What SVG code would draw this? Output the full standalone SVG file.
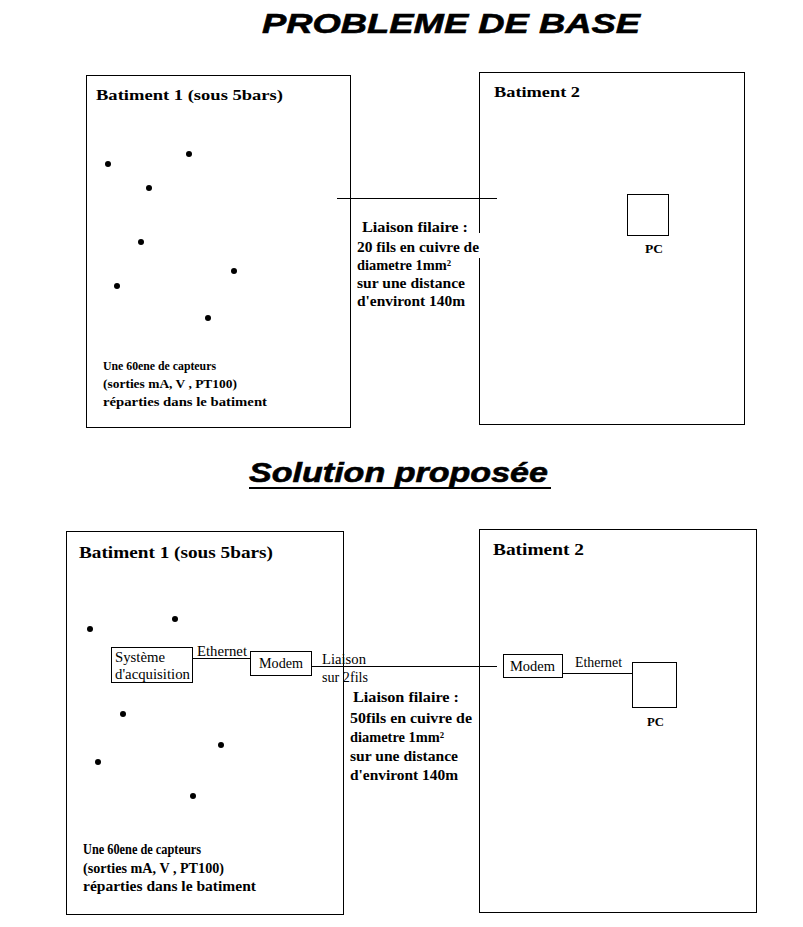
<svg xmlns="http://www.w3.org/2000/svg" width="803" height="927" viewBox="0 0 803 927">
<style>
.box{fill:none;stroke:#000;stroke-width:1}
.ln{stroke:#000;stroke-width:1;fill:none}
.title{font-family:"Liberation Sans",Arial,sans-serif;font-weight:bold;font-style:italic;font-size:28px;fill:#000;stroke:#000;stroke-width:0.6}
.b{font-family:"Liberation Serif","Times New Roman",serif;font-weight:bold;fill:#000}
.r{font-family:"Liberation Serif","Times New Roman",serif;font-size:14px;fill:#000}
.dot{fill:#000}
</style>
<rect width="803" height="927" fill="#fff"/>

<text class="title" x="262" y="33" textLength="378" lengthAdjust="spacingAndGlyphs">PROBLEME DE BASE</text>

<g id="batiment1-top">
<rect class="box" x="86.5" y="75.5" width="264" height="352"/>
<text class="b" x="96" y="100" font-size="15" textLength="187" lengthAdjust="spacingAndGlyphs">Batiment 1 (sous 5bars)</text>
<circle class="dot" cx="108" cy="164" r="3"/>
<circle class="dot" cx="189" cy="154" r="3"/>
<circle class="dot" cx="149" cy="188" r="3"/>
<circle class="dot" cx="141" cy="242" r="3"/>
<circle class="dot" cx="234" cy="271" r="3"/>
<circle class="dot" cx="117" cy="286" r="3"/>
<circle class="dot" cx="208" cy="318" r="3"/>
<text class="b" x="103" y="370" font-size="13" textLength="113" lengthAdjust="spacingAndGlyphs">Une 60ene de capteurs</text>
<text class="b" x="103" y="388" font-size="13" textLength="134" lengthAdjust="spacingAndGlyphs">(sorties mA, V , PT100)</text>
<text class="b" x="103" y="406" font-size="13" textLength="164" lengthAdjust="spacingAndGlyphs">réparties dans le batiment</text>
</g>

<g id="batiment2-top">
<rect class="box" x="479.5" y="72.5" width="265" height="352"/>
<text class="b" x="494" y="97" font-size="15" textLength="86" lengthAdjust="spacingAndGlyphs">Batiment 2</text>
</g>

<g id="pc-top">
<rect class="box" x="627.5" y="194.5" width="41" height="41"/>
<text class="b" x="645" y="253" font-size="13" textLength="18" lengthAdjust="spacingAndGlyphs">PC</text>
</g>

<g id="connectors-top">
<line class="ln" x1="337" y1="198.5" x2="497" y2="198.5"/>
</g>

<g id="liaison-top">
<rect x="353" y="233" width="129" height="25" fill="#fff"/>
<text class="b" x="362" y="232" font-size="14" textLength="106" lengthAdjust="spacingAndGlyphs">Liaison filaire :</text>
<text class="b" x="357" y="252" font-size="14" textLength="122" lengthAdjust="spacingAndGlyphs">20 fils en cuivre de</text>
<text class="b" x="357" y="270" font-size="14" textLength="94" lengthAdjust="spacingAndGlyphs">diametre 1mm²</text>
<text class="b" x="357" y="288" font-size="14" textLength="108" lengthAdjust="spacingAndGlyphs">sur une distance</text>
<text class="b" x="357" y="306" font-size="14" textLength="108" lengthAdjust="spacingAndGlyphs">d'environt 140m</text>
</g>

<text class="title" x="249" y="482" textLength="299" lengthAdjust="spacingAndGlyphs">Solution proposée</text>
<line x1="249" y1="488" x2="551" y2="488" stroke="#000" stroke-width="2"/>

<g id="batiment1-bottom">
<rect class="box" x="66.5" y="531.5" width="277" height="383"/>
<text class="b" x="79" y="558" font-size="16" textLength="194" lengthAdjust="spacingAndGlyphs">Batiment 1 (sous 5bars)</text>
<circle class="dot" cx="90" cy="629" r="3"/>
<circle class="dot" cx="175" cy="619" r="3"/>
<circle class="dot" cx="123" cy="714" r="3"/>
<circle class="dot" cx="221" cy="745" r="3"/>
<circle class="dot" cx="98" cy="762" r="3"/>
<circle class="dot" cx="193" cy="796" r="3"/>
<text class="b" x="83" y="854" font-size="14" textLength="118" lengthAdjust="spacingAndGlyphs">Une 60ene de capteurs</text>
<text class="b" x="83" y="873" font-size="14" textLength="141" lengthAdjust="spacingAndGlyphs">(sorties mA, V , PT100)</text>
<text class="b" x="83" y="891" font-size="14" textLength="173" lengthAdjust="spacingAndGlyphs">réparties dans le batiment</text>
</g>

<g id="batiment2-bottom">
<rect class="box" x="479.5" y="529.5" width="277" height="383"/>
<text class="b" x="493" y="555" font-size="16" textLength="91" lengthAdjust="spacingAndGlyphs">Batiment 2</text>
</g>

<g id="acquisition">
<rect class="box" x="111.5" y="647.5" width="81" height="35"/>
<text class="r" x="115" y="662" textLength="50" lengthAdjust="spacingAndGlyphs">Système</text>
<text class="r" x="115" y="679" textLength="75" lengthAdjust="spacingAndGlyphs">d'acquisition</text>
</g>

<g id="modem-left">
<rect class="box" x="250.5" y="651.5" width="61" height="24"/>
<text class="r" x="259" y="668" textLength="44" lengthAdjust="spacingAndGlyphs">Modem</text>
</g>

<g id="modem-right">
<rect class="box" x="503.5" y="654.5" width="59" height="23"/>
<text class="r" x="510" y="671" textLength="45" lengthAdjust="spacingAndGlyphs">Modem</text>
</g>

<g id="pc-bottom">
<rect class="box" x="632.5" y="662.5" width="44" height="45"/>
<text class="b" x="647" y="726" font-size="13" textLength="17" lengthAdjust="spacingAndGlyphs">PC</text>
</g>

<g id="connectors-bottom">
<line class="ln" x1="192" y1="658.5" x2="250" y2="658.5"/>
<text class="r" x="197" y="656" textLength="50" lengthAdjust="spacingAndGlyphs">Ethernet</text>
<line class="ln" x1="312" y1="666.5" x2="497" y2="666.5"/>
<text class="r" x="322" y="664" textLength="44" lengthAdjust="spacingAndGlyphs">Liaison</text>
<text class="r" x="322" y="682" textLength="46" lengthAdjust="spacingAndGlyphs">sur 2fils</text>
<line class="ln" x1="562" y1="673.5" x2="632" y2="673.5"/>
<text class="r" x="575" y="667" textLength="47" lengthAdjust="spacingAndGlyphs">Ethernet</text>
</g>

<g id="liaison-bottom">
<text class="b" x="353" y="702" font-size="14" textLength="106" lengthAdjust="spacingAndGlyphs">Liaison filaire :</text>
<text class="b" x="350" y="723" font-size="14" textLength="122" lengthAdjust="spacingAndGlyphs">50fils en cuivre de</text>
<text class="b" x="350" y="742" font-size="14" textLength="94" lengthAdjust="spacingAndGlyphs">diametre 1mm²</text>
<text class="b" x="350" y="761" font-size="14" textLength="108" lengthAdjust="spacingAndGlyphs">sur une distance</text>
<text class="b" x="350" y="780" font-size="14" textLength="108" lengthAdjust="spacingAndGlyphs">d'environt 140m</text>
</g>
</svg>
